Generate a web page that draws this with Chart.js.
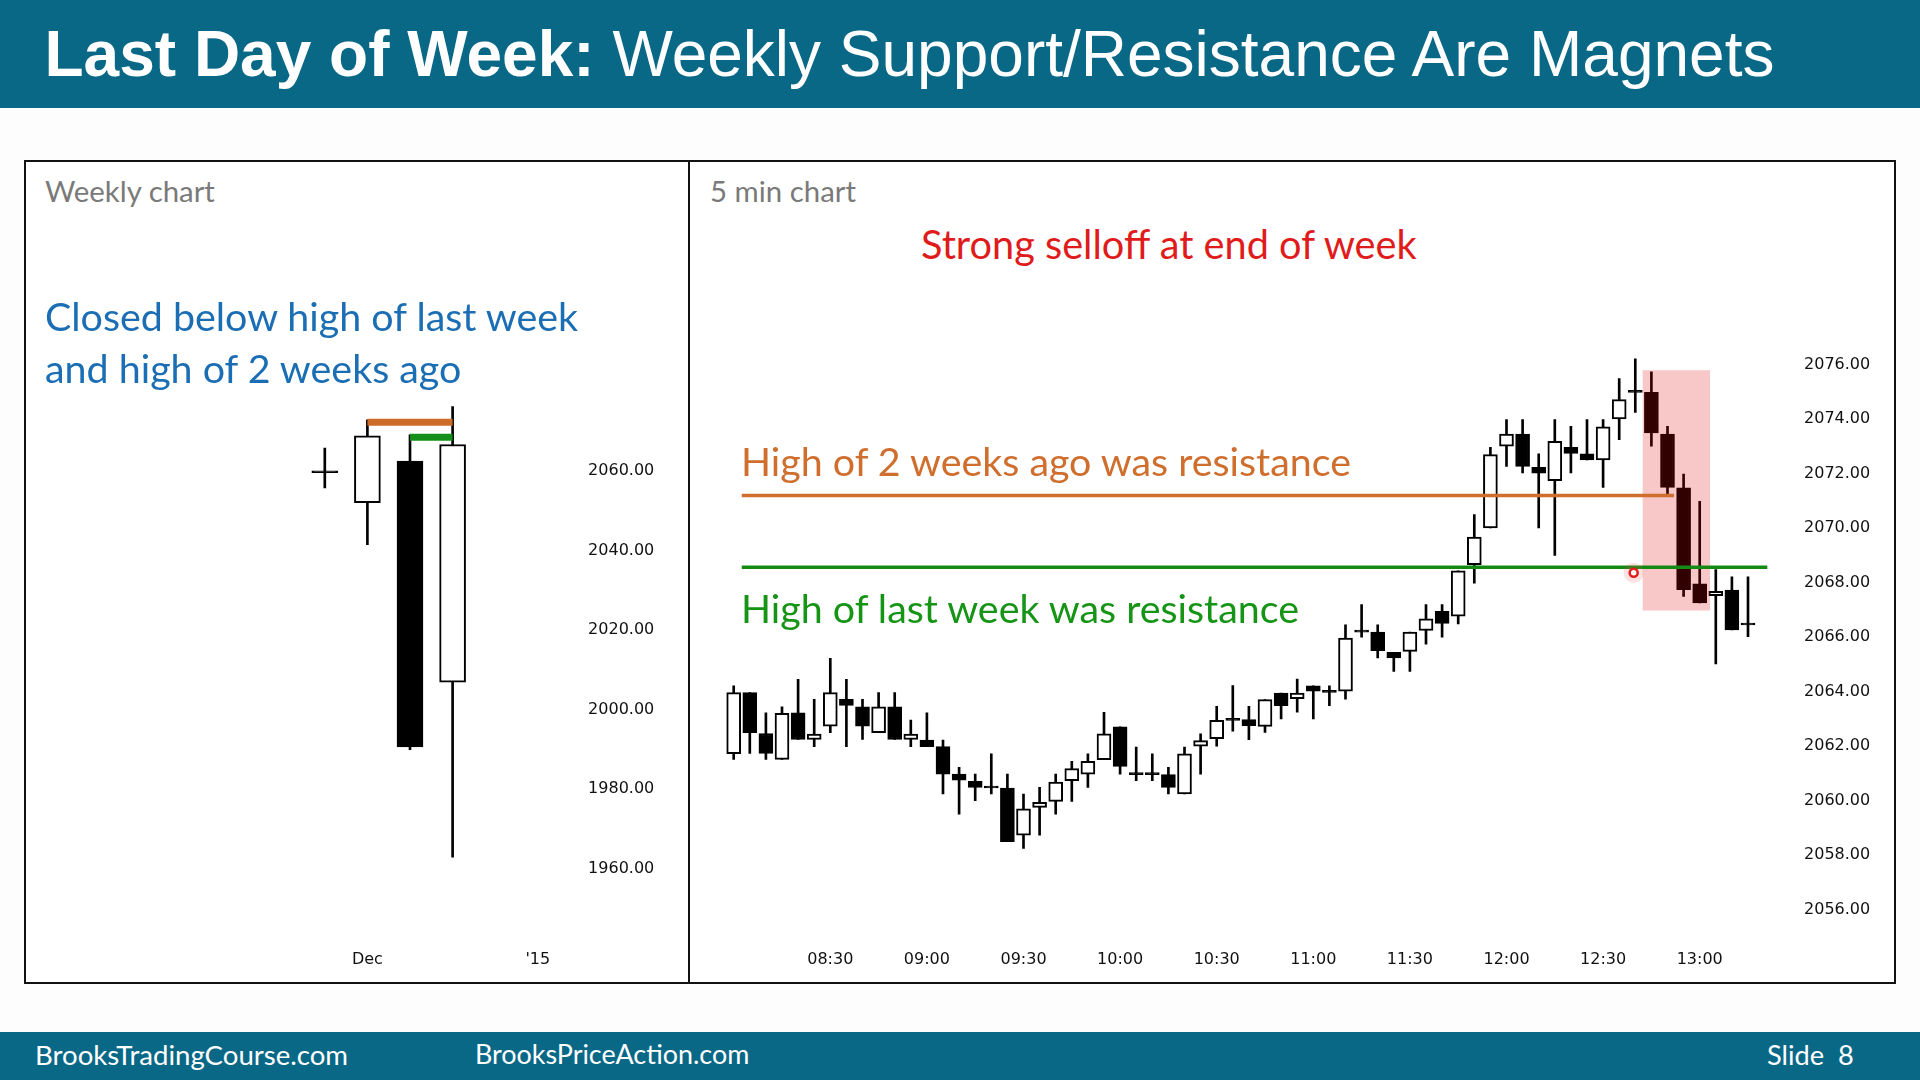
<!DOCTYPE html>
<html>
<head>
<meta charset="utf-8">
<script src="https://cdn.jsdelivr.net/npm/chart.js@4.4.1/dist/chart.umd.min.js"></script>
<style>
html,body{margin:0;padding:0}
body{width:1920px;height:1080px;position:relative;overflow:hidden;background:#fcfdfc;font-family:Lato,"Open Sans",sans-serif}
.band{position:absolute;left:0;width:1920px;background:#0a6887}
#head{top:0;height:108px}
#foot{top:1032px;height:48px}
#title{position:absolute;left:44.5px;top:22px;font:64px/64px "Liberation Sans",Arial,sans-serif;color:#fff;white-space:nowrap}
#frame{position:absolute;left:24px;top:160px;width:1872px;height:824px;box-sizing:border-box;border:2px solid #111;background:#fff}
#divider{position:absolute;left:688px;top:160px;width:2px;height:824px;background:#111}
canvas{position:absolute}
.t{position:absolute;white-space:nowrap;line-height:1}
.note{font-size:39.4px}
.foot{color:#fff;font-size:27.2px}
</style>
</head>
<body>
<div class="band" id="head"></div>
<div id="title"><b>Last Day of Week:</b> Weekly Support/Resistance Are Magnets</div>
<div id="frame"></div>
<div id="divider"></div>
<canvas id="weekly" width="655" height="680" style="left:30px;top:300px"></canvas>
<canvas id="intraday" width="1190" height="680" style="left:700px;top:300px"></canvas>

<div class="t" style="left:45px;top:175.5px;font-size:29.4px;color:#7a7a7a">Weekly chart</div>
<div class="t" style="left:710px;top:175.5px;font-size:29.4px;color:#7a7a7a">5 min chart</div>
<div class="t note" style="left:921px;top:224px;font-size:39.7px;color:#e01b1b">Strong selloff at end of week</div>
<div class="t note" style="left:45px;top:296px;color:#1b6eb4">Closed below high of last week</div>
<div class="t note" style="left:45px;top:348px;color:#1b6eb4">and high of 2 weeks ago</div>
<div class="t note" style="left:741px;top:441px;color:#cf6e2d">High of 2 weeks ago was resistance</div>
<div class="t note" style="left:741px;top:588px;color:#169416">High of last week was resistance</div>

<div class="band" id="foot"></div>
<div class="t foot" style="left:35px;top:1040.5px;font-size:27.6px">BrooksTradingCourse.com</div>
<div class="t foot" style="left:475px;top:1040.5px;font-size:26.9px">BrooksPriceAction.com</div>
<div class="t foot" style="left:1767px;top:1040.5px">Slide&nbsp;&nbsp;8</div>

<script>
// ---- weekly chart data ----
const weekCats=['Oct 13','Oct 20','Oct 27','Nov 3','Nov 10','Nov 17','Nov 24','Dec 1','Dec 8','Dec 15','Dec 22','Dec 29'];
const weekOpen =[null,null,null,null,null,null,2059.5,2052.0,2062.4,2006.9,null,null];
const weekHigh =[null,null,null,null,null,null,2065.7,2072.8,2069.0,2076.1,null,null];
const weekLow  =[null,null,null,null,null,null,2055.7,2041.4,1989.9,1962.9,null,null];
const weekClose=[null,null,null,null,null,null,2059.5,2068.8,1990.6,2066.6,null,null];
const weekTicks=[2060,2040,2020,2000,1980,1960];
const weekTickAt=['Dec 1','Dec 29'];
const weekTickText=['Dec',"'15"];
const twoWeeksAgoHigh=[null,null,null,null,null,null,null,2072.2,2072.2,2072.2,null,null];
const lastWeekHigh   =[null,null,null,null,null,null,null,null,2068.4,2068.4,null,null];

// ---- 5 min chart data ----
const times=['08:00','08:05','08:10','08:15','08:20','08:25','08:30','08:35','08:40','08:45','08:50','08:55',
 '09:00','09:05','09:10','09:15','09:20','09:25','09:30','09:35','09:40','09:45','09:50','09:55',
 '10:00','10:05','10:10','10:15','10:20','10:25','10:30','10:35','10:40','10:45','10:50','10:55',
 '11:00','11:05','11:10','11:15','11:20','11:25','11:30','11:35','11:40','11:45','11:50','11:55',
 '12:00','12:05','12:10','12:15','12:20','12:25','12:30','12:35','12:40','12:45','12:50','12:55',
 '13:00','13:05','13:10','13:15'];
const open =[2061.72,2063.96,2062.46,2061.51,2063.22,2062.24,2062.73,2063.71,2063.44,2062.49,2063.44,2062.24,
 2062.22,2061.98,2060.97,2060.70,2060.46,2060.46,2058.73,2059.75,2059.97,2060.73,2060.97,2061.50,
 2062.70,2060.95,2060.95,2060.95,2060.24,2061.99,2062.27,2062.94,2062.97,2062.72,2063.94,2063.74,
 2064.21,2063.97,2064.01,2066.18,2066.18,2065.44,2065.47,2066.24,2066.94,2066.76,2068.65,2070.00,
 2073.00,2073.45,2072.23,2071.74,2072.96,2072.72,2072.50,2074.00,2074.98,2074.98,2073.45,2071.47,
 2067.95,2067.52,2067.72,2066.44];
const high =[2064.21,2063.96,2063.22,2063.44,2064.45,2063.71,2065.22,2064.45,2063.71,2063.96,2063.96,2062.95,
 2063.22,2062.22,2061.22,2060.97,2061.71,2060.97,2060.24,2060.48,2060.97,2061.44,2061.71,2063.24,
 2062.70,2061.96,2061.71,2061.22,2061.96,2062.45,2063.46,2064.22,2063.46,2063.70,2063.94,2064.46,
 2064.21,2064.21,2066.45,2067.19,2066.45,2065.44,2066.18,2067.19,2067.19,2068.43,2070.49,2072.96,
 2073.98,2073.98,2072.72,2073.98,2073.73,2073.98,2073.98,2075.48,2076.21,2075.73,2073.73,2071.98,
 2070.98,2068.47,2068.21,2068.21];
const low  =[2061.51,2061.73,2061.51,2061.51,2062.24,2061.98,2062.49,2061.98,2062.24,2062.49,2062.24,2061.98,
 2061.98,2060.24,2059.50,2059.99,2060.24,2058.49,2058.24,2058.73,2059.50,2059.97,2060.48,2061.50,
 2060.97,2060.73,2060.73,2060.24,2060.24,2060.97,2061.99,2062.54,2062.23,2062.50,2062.99,2063.24,
 2062.99,2063.48,2063.72,2065.99,2065.23,2064.74,2064.74,2065.74,2065.99,2066.48,2067.98,2070.00,
 2072.26,2072.02,2070.00,2068.99,2072.02,2072.50,2071.49,2073.24,2074.24,2073.00,2071.22,2067.49,
 2067.25,2065.01,2066.26,2066.01];
const close=[2063.96,2062.49,2061.73,2063.20,2062.24,2062.44,2063.96,2063.49,2062.73,2063.44,2062.24,2062.44,
 2061.98,2060.97,2060.75,2060.48,2060.46,2058.49,2059.69,2059.93,2060.68,2061.17,2061.44,2062.45,
 2061.25,2060.95,2060.95,2060.48,2061.71,2062.20,2062.94,2062.94,2062.75,2063.70,2063.48,2063.94,
 2064.01,2063.97,2065.96,2066.18,2065.50,2065.23,2066.18,2066.67,2066.50,2068.43,2069.67,2072.69,
 2073.45,2072.26,2072.01,2073.18,2072.74,2072.50,2073.71,2074.71,2074.98,2073.49,2071.49,2067.74,
 2067.25,2067.68,2066.26,2066.44];
const priceTicks=[2076,2074,2072,2070,2068,2066,2064,2062,2060,2058,2056];
const timeTicks=['08:30','09:00','09:30','10:00','10:30','11:00','11:30','12:00','12:30','13:00'];
// resistance levels: [from bar, to bar], price
const twoWeeksAgoSpan=[0.5,58.4], twoWeeksAgoLevel=2071.19;
const lastWeekSpan=[0.5,64.2], lastWeekLevel=2068.56;
// selloff highlight: bars 56.46..60.64, prices 2066.97..2075.79
const selloffBars=[56.46,60.64], selloffPrices=[2066.97,2075.79];
const cursorAt=[55.9,2068.36];

const axisFont={family:'"DejaVu Sans", sans-serif',size:16};
const INK='#000';
function candleColors(o,c){return o.map((v,i)=>v==null?null:(c[i]>o[i]?'#ffffff':INK));}
function bodies(o,c){return o.map((v,i)=>v==null?null:[v,c[i]]);}
function wicks(l,h){return l.map((v,i)=>v==null?null:[v,h[i]]);}
// invisible tick marks used as the gap between plot and price labels
function gapGrid(len){return {display:true,drawOnChartArea:false,drawTicks:true,tickLength:len,tickColor:'rgba(0,0,0,0)'};}

// weekly
new Chart(document.getElementById('weekly'),{
  type:'bar',
  data:{labels:weekCats,datasets:[
    {type:'line',data:twoWeeksAgoHigh,borderColor:'#cd6b28',borderWidth:7,pointRadius:0,borderCapStyle:'butt',order:0},
    {type:'line',data:lastWeekHigh,borderColor:'#14901a',borderWidth:7,pointRadius:0,borderCapStyle:'butt',order:0},
    {data:bodies(weekOpen,weekClose),backgroundColor:candleColors(weekOpen,weekClose),borderColor:INK,borderWidth:2,
     borderSkipped:false,barThickness:26,minBarLength:2,grouped:false,order:1},
    {data:wicks(weekLow,weekHigh),backgroundColor:INK,borderWidth:0,barThickness:2,grouped:false,order:2}
  ]},
  options:{
    responsive:false,animation:false,events:[],
    layout:{autoPadding:false,padding:{left:17.9,top:75.2,right:0,bottom:0}},
    plugins:{legend:{display:false},tooltip:{enabled:false}},
    scales:{
      x:{offset:true,grid:{display:false,drawTicks:false},border:{display:false},
         ticks:{autoSkip:false,maxRotation:0,padding:17.5,font:axisFont,color:'#111',
           callback:function(v){const k=weekTickAt.indexOf(weekCats[v]);return k<0?'':weekTickText[k];}},
         afterBuildTicks:s=>{s.ticks=s.ticks.filter(t=>weekTickAt.includes(weekCats[t.value]));},
         afterFit:s=>{s.height=47.5;}},
      y:{position:'right',min:1944,max:2084,grid:gapGrid(27),border:{display:false},
         ticks:{padding:2,font:axisFont,color:'#111',callback:v=>v.toFixed(2)},
         afterBuildTicks:s=>{s.ticks=weekTicks.map(v=>({value:v}));},
         afterFit:s=>{s.width=125.9;}}
    }
  }
});

// 5 min
new Chart(document.getElementById('intraday'),{
  type:'bar',
  data:{labels:times,datasets:[
    {type:'line',xAxisID:'x2',data:[{x:cursorAt[0],y:cursorAt[1]}],showLine:false,pointRadius:4,pointBorderWidth:2.5,
     pointBackgroundColor:'#ffffff',pointBorderColor:'#e41c1c',order:0},
    {type:'line',xAxisID:'x2',data:[{x:cursorAt[0],y:cursorAt[1]}],showLine:false,pointRadius:10,pointBorderWidth:0,
     pointBackgroundColor:'rgba(255,70,70,0.16)',order:0},
    {type:'line',xAxisID:'x2',data:[{x:twoWeeksAgoSpan[0],y:twoWeeksAgoLevel},{x:twoWeeksAgoSpan[1],y:twoWeeksAgoLevel}],
     borderColor:'#cf6e2d',borderWidth:3.5,pointRadius:0,borderCapStyle:'butt',order:1},
    {type:'line',xAxisID:'x2',clip:false,data:[{x:lastWeekSpan[0],y:lastWeekLevel},{x:lastWeekSpan[1],y:lastWeekLevel}],
     borderColor:'#148a14',borderWidth:3.5,pointRadius:0,borderCapStyle:'butt',order:1},
    {type:'line',xAxisID:'x2',fill:'shape',backgroundColor:'rgba(223,0,0,0.22)',borderWidth:0,pointRadius:0,order:2,
     data:[{x:selloffBars[0],y:selloffPrices[1]},{x:selloffBars[1],y:selloffPrices[1]},
           {x:selloffBars[1],y:selloffPrices[0]},{x:selloffBars[0],y:selloffPrices[0]},{x:selloffBars[0],y:selloffPrices[1]}]},
    {data:bodies(open,close),backgroundColor:candleColors(open,close),borderColor:INK,borderWidth:2,
     borderSkipped:false,barThickness:14,minBarLength:2,grouped:false,order:3},
    {data:wicks(low,high),backgroundColor:INK,borderWidth:0,barThickness:2,grouped:false,order:4}
  ]},
  options:{
    responsive:false,animation:false,events:[],
    layout:{autoPadding:false,padding:{left:25.65,top:37.25,right:0,bottom:0}},
    plugins:{legend:{display:false},tooltip:{enabled:false}},
    scales:{
      x:{offset:true,grid:{display:false,drawTicks:false},border:{display:false},
         ticks:{autoSkip:false,maxRotation:0,padding:13,font:axisFont,color:'#111'},
         afterBuildTicks:s=>{s.ticks=s.ticks.filter(t=>timeTicks.includes(times[t.value]));},
         afterFit:s=>{s.height=43.25;}},
      x2:{type:'linear',display:false,offset:false,min:-0.5,max:63.5},
      y:{position:'right',min:2055,max:2077,grid:gapGrid(46),border:{display:false},
         ticks:{padding:2,font:axisFont,color:'#111',callback:v=>v.toFixed(2)},
         afterBuildTicks:s=>{s.ticks=priceTicks.map(v=>({value:v}));},
         afterFit:s=>{s.width=133.95;}}
    }
  }
});
</script>
</body>
</html>
